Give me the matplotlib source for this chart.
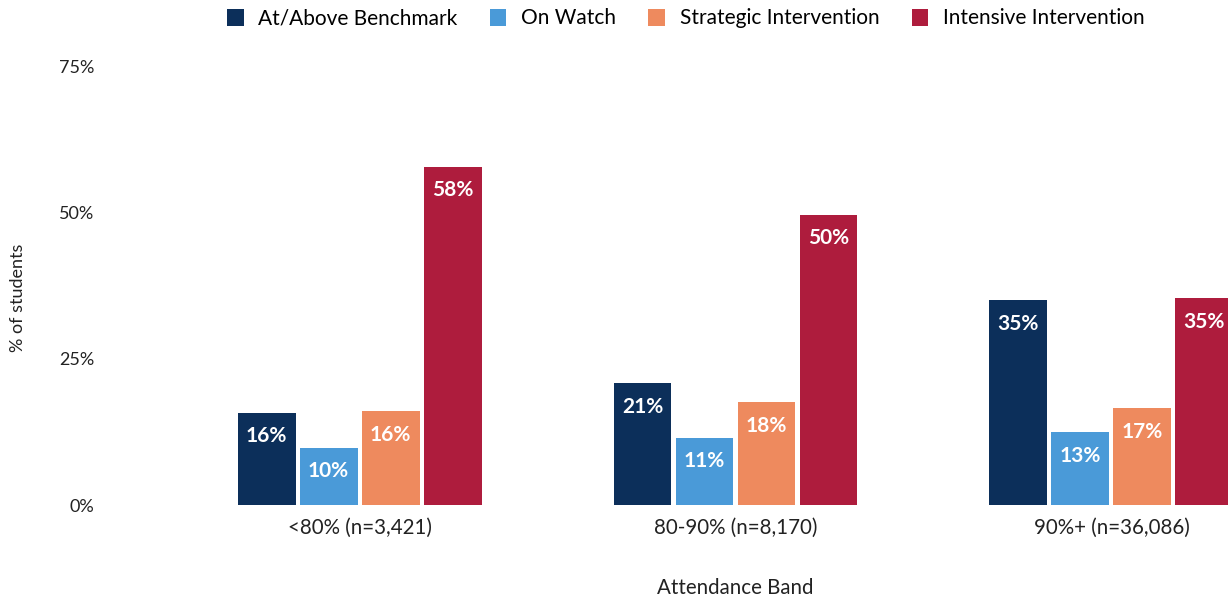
import matplotlib
matplotlib.use("Agg")
import matplotlib.pyplot as plt
from matplotlib.patches import Patch
import numpy as np

plt.rcParams['font.family'] = ['Lato', 'DejaVu Sans']

categories = ["<80% (n=3,421)", "80-90% (n=8,170)", "90%+ (n=36,086)"]
series = ["At/Above Benchmark", "On Watch", "Strategic Intervention", "Intensive Intervention"]
at_above = [15.8, 20.9, 35.1]
on_watch = [9.8, 11.5, 12.5]
strategic = [16.1, 17.6, 16.6]
intensive = [57.9, 49.7, 35.4]
labels_at_above = ["16%", "21%", "35%"]
labels_on_watch = ["10%", "11%", "13%"]
labels_strategic = ["16%", "18%", "17%"]
labels_intensive = ["58%", "50%", "35%"]
yticks = [0, 25, 50, 75]
ytick_labels = ["0%", "25%", "50%", "75%"]

colors = ["#0c2f5a", "#4a9ad8", "#ee8a5e", "#ae1c3d"]
values = [at_above, on_watch, strategic, intensive]
texts = [labels_at_above, labels_on_watch, labels_strategic, labels_intensive]

W, H = 1228, 599
fig = plt.figure(figsize=(W / 100, H / 100), dpi=100)
left, right, bottom, top = 110, 1361, 505, 67
ax = fig.add_axes([left / W, 1 - bottom / H, (right - left) / W, (bottom - top) / H])

x = np.arange(len(categories))
step = 0.165
width = 0.154
for i, (vals, col, labs) in enumerate(zip(values, colors, texts)):
    pos = x + (i - 1.5) * step
    bars = ax.bar(pos, vals, width=width, color=col, label=series[i])
    for b, lab in zip(bars, labs):
        ax.annotate(lab, (b.get_x() + b.get_width() / 2, b.get_height()),
                    xytext=(0, -17), textcoords="offset points",
                    ha="center", va="center", color="white",
                    fontsize=15, fontweight="bold")

ax.set_xlim(-0.664, 2.664)
ax.set_ylim(0, 75)
ax.set_yticks(yticks)
ax.set_yticklabels(ytick_labels, fontsize=13, color="#222222")
ax.set_xticks(x)
ax.set_xticklabels(categories, fontsize=14.8, color="#222222")
ax.tick_params(axis="both", length=0)
ax.tick_params(axis="y", pad=11)
ax.tick_params(axis="x", pad=9)
for s in ax.spines.values():
    s.set_visible(False)

ax.set_xlabel("Attendance Band", fontsize=14.8, color="#222222", va="center")
ax.xaxis.set_label_coords(0.5, -(588 - 505) / (bottom - top))
fig.text(18 / W, 1 - 298 / H, "% of students", rotation=90, fontsize=13,
         color="#222222", ha="center", va="center")

handles = [Patch(facecolor=c, edgecolor="none") for c in colors]
fig.legend(handles, series, loc="center left", bbox_to_anchor=(227 / W, 1 - 18.5 / H),
           ncol=4, frameon=False, fontsize=15, handlelength=0.8, handleheight=0.9,
           handletextpad=0.7, columnspacing=1.55, borderpad=0, borderaxespad=0)

fig.savefig("out.png", dpi=100, facecolor="white")
